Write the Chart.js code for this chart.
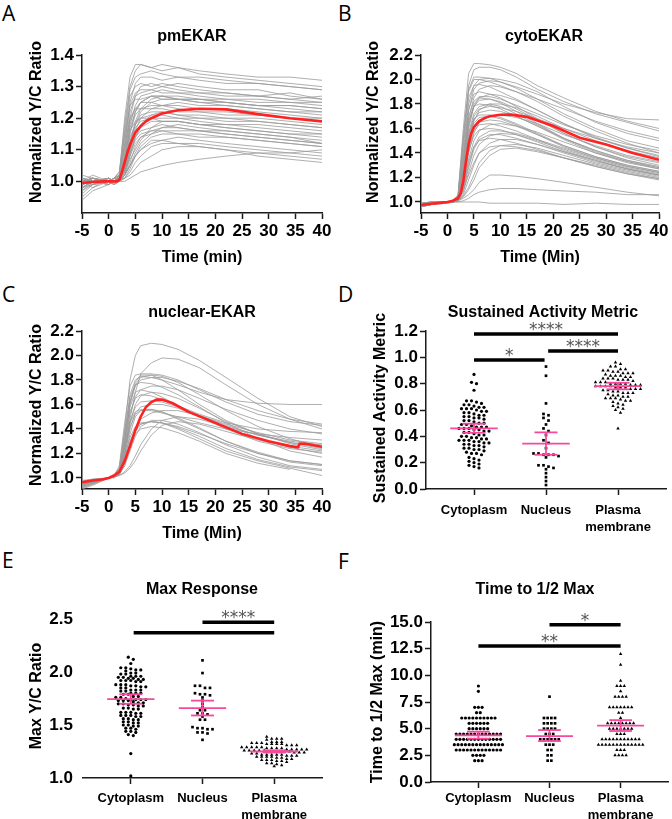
<!DOCTYPE html>
<html>
<head>
<meta charset="utf-8">
<script src="https://cdn.jsdelivr.net/npm/chart.js@4.4.0/dist/chart.umd.min.js"></script>
<style>
body { margin: 0; background: #fff; width: 672px; height: 819px; position: relative; overflow: hidden; }
canvas { position: absolute; }
.lt { position: absolute; font-family: 'Open Sans', sans-serif; font-size: 21px; color: #000; line-height: 1; }
</style>
</head>
<body>
<div class="lt" style="left:2px;top:3px">A</div>
<div class="lt" style="left:338px;top:3px">B</div>
<div class="lt" style="left:2px;top:284px">C</div>
<div class="lt" style="left:338px;top:284px">D</div>
<div class="lt" style="left:2px;top:550px">E</div>
<div class="lt" style="left:338px;top:551px">F</div>

<canvas id="cA" width="336" height="270" style="left:0;top:0"></canvas>
<canvas id="cB" width="336" height="270" style="left:336px;top:0"></canvas>
<canvas id="cC" width="336" height="290" style="left:0;top:270px"></canvas>
<canvas id="cD" width="336" height="290" style="left:336px;top:270px"></canvas>
<canvas id="cE" width="336" height="259" style="left:0;top:560px"></canvas>
<canvas id="cF" width="336" height="259" style="left:336px;top:560px"></canvas>

<script>
// ---- time course data ----
const timeGrid = [-5, -3, 0, 1, 2, 3, 4, 5, 6, 8, 10, 13, 17, 22, 28, 34, 40];
const timeTicks = [-5, 0, 5, 10, 15, 20, 25, 30, 35, 40];

const pmTraces = [
  [0.99,1.01,1.00,1.00,1.02,1.20,1.33,1.37,1.37,1.36,1.37,1.36,1.35,1.34,1.33,1.33,1.32],
  [1.01,1.00,0.99,1.01,1.03,1.18,1.30,1.35,1.37,1.36,1.35,1.36,1.34,1.33,1.32,1.31,1.30],
  [0.98,1.00,1.01,1.00,1.01,1.12,1.25,1.31,1.33,1.33,1.32,1.33,1.32,1.31,1.31,1.30,1.29],
  [1.00,1.02,1.00,0.99,1.02,1.15,1.27,1.30,1.31,1.30,1.31,1.30,1.29,1.28,1.27,1.28,1.26],
  [0.97,0.99,1.01,1.00,1.00,1.08,1.20,1.27,1.30,1.31,1.30,1.31,1.30,1.29,1.29,1.27,1.26],
  [1.01,1.00,1.00,1.01,1.02,1.10,1.22,1.27,1.28,1.29,1.28,1.28,1.27,1.26,1.26,1.25,1.25],
  [0.99,1.01,1.00,1.00,1.01,1.06,1.18,1.24,1.27,1.28,1.29,1.28,1.28,1.27,1.27,1.26,1.27],
  [1.00,0.98,1.01,1.00,1.01,1.05,1.15,1.22,1.25,1.27,1.27,1.27,1.26,1.26,1.25,1.25,1.24],
  [1.02,1.01,1.00,1.00,1.00,1.04,1.12,1.19,1.23,1.26,1.27,1.26,1.26,1.25,1.24,1.24,1.23],
  [0.98,1.00,1.00,1.01,1.01,1.09,1.19,1.23,1.25,1.25,1.24,1.25,1.24,1.24,1.23,1.22,1.22],
  [1.00,1.01,0.99,1.00,1.02,1.07,1.16,1.21,1.23,1.24,1.24,1.24,1.23,1.23,1.22,1.21,1.20],
  [0.96,0.99,1.00,1.00,1.00,1.03,1.10,1.16,1.20,1.23,1.24,1.23,1.22,1.22,1.21,1.20,1.19],
  [1.01,1.00,1.01,1.00,1.01,1.05,1.13,1.18,1.21,1.22,1.22,1.21,1.21,1.20,1.20,1.19,1.18],
  [0.99,1.00,1.00,1.01,1.00,1.02,1.08,1.14,1.18,1.21,1.22,1.21,1.20,1.20,1.19,1.18,1.17],
  [1.00,1.01,1.00,1.00,1.01,1.06,1.14,1.18,1.20,1.20,1.20,1.20,1.19,1.18,1.18,1.17,1.16],
  [1.00,0.99,1.01,1.00,1.00,1.03,1.09,1.14,1.17,1.19,1.19,1.19,1.18,1.17,1.16,1.15,1.15],
  [0.97,1.00,1.00,0.99,1.01,1.04,1.10,1.14,1.16,1.17,1.18,1.17,1.16,1.16,1.15,1.14,1.13],
  [1.01,1.00,0.99,1.00,1.00,1.02,1.06,1.11,1.14,1.16,1.17,1.17,1.16,1.15,1.14,1.13,1.12],
  [0.99,1.00,1.01,1.00,1.01,1.03,1.08,1.12,1.14,1.15,1.16,1.15,1.15,1.14,1.13,1.12,1.11],
  [1.00,1.01,1.00,1.01,1.00,1.01,1.04,1.08,1.11,1.14,1.15,1.15,1.14,1.14,1.13,1.12,1.11],
  [0.98,0.99,1.00,1.00,1.00,1.02,1.05,1.08,1.10,1.13,1.13,1.14,1.13,1.12,1.11,1.10,1.09],
  [1.00,1.00,1.01,1.00,1.01,1.01,1.03,1.06,1.08,1.11,1.12,1.12,1.12,1.11,1.10,1.09,1.08],
  [0.99,1.00,1.00,0.99,1.00,1.01,1.02,1.04,1.06,1.08,1.10,1.11,1.11,1.10,1.09,1.08,1.07],
  [1.00,1.00,0.99,1.00,1.00,1.00,1.01,1.02,1.03,1.04,1.05,1.06,1.07,1.08,1.09,1.09,1.10],
  [0.94,0.97,0.99,1.00,1.02,1.16,1.29,1.33,1.34,1.35,1.34,1.33,1.33,1.32,1.31,1.30,1.29],
  [1.00,1.01,1.00,1.01,1.03,1.14,1.24,1.26,1.26,1.27,1.26,1.26,1.25,1.25,1.24,1.24,1.23],
  [0.99,1.00,1.00,1.00,1.02,1.11,1.20,1.23,1.23,1.23,1.23,1.22,1.22,1.21,1.21,1.20,1.20],
  [1.01,1.00,1.00,1.00,1.01,1.08,1.16,1.19,1.20,1.21,1.21,1.20,1.20,1.19,1.19,1.18,1.17],
  [0.98,1.00,1.01,1.00,1.00,1.03,1.07,1.10,1.13,1.17,1.19,1.19,1.18,1.17,1.16,1.15,1.14],
  [1.00,1.00,1.00,1.01,1.01,1.05,1.12,1.17,1.19,1.20,1.19,1.19,1.18,1.18,1.17,1.16,1.15],
  [0.95,0.98,1.00,1.00,1.01,1.04,1.12,1.18,1.22,1.25,1.26,1.26,1.25,1.24,1.23,1.22,1.21],
  [1.01,1.00,1.00,1.00,1.01,1.07,1.17,1.22,1.25,1.27,1.27,1.26,1.26,1.25,1.24,1.23,1.22],
  [1.00,0.99,1.00,1.01,1.02,1.12,1.24,1.28,1.29,1.29,1.30,1.29,1.28,1.28,1.27,1.26,1.25],
  [0.99,1.01,1.00,1.00,1.00,1.02,1.05,1.09,1.12,1.15,1.17,1.18,1.17,1.16,1.15,1.14,1.12],
  [1.00,1.00,1.00,1.00,1.01,1.04,1.09,1.13,1.15,1.16,1.16,1.16,1.16,1.15,1.14,1.13,1.12],
  [1.00,1.01,1.00,0.99,1.00,1.02,1.05,1.08,1.10,1.12,1.13,1.12,1.11,1.10,1.08,1.07,1.06]
];
const pmMeanT = [-5, -3, -1, 0, 1, 1.5, 2, 2.5, 3, 3.5, 4, 5, 6, 7, 8, 10, 13, 17, 22, 28, 34, 40];
const pmMeanY = [0.995, 0.998, 1.0, 1.0, 1.0, 1.0, 1.005, 1.03, 1.06, 1.09, 1.115, 1.155, 1.175, 1.19, 1.20, 1.215, 1.225, 1.23, 1.228, 1.213, 1.20, 1.19];

const cytoTraces = [
  [0.98,0.99,1.00,1.00,1.05,1.60,2.05,2.13,2.13,2.12,2.10,2.05,1.95,1.85,1.74,1.66,1.60],
  [0.97,0.99,1.00,1.00,1.04,1.50,1.95,2.08,2.10,2.10,2.08,2.02,1.92,1.82,1.72,1.65,1.58],
  [0.99,1.00,1.00,1.01,1.06,1.55,1.92,2.02,2.02,2.01,1.98,1.94,1.88,1.80,1.73,1.68,1.67],
  [0.98,1.00,1.00,1.00,1.03,1.40,1.80,1.95,2.00,2.01,2.00,1.97,1.90,1.78,1.65,1.56,1.50],
  [0.96,0.98,1.00,1.00,1.03,1.35,1.75,1.92,1.97,1.99,1.98,1.93,1.84,1.72,1.60,1.50,1.44],
  [0.97,0.99,1.00,1.01,1.04,1.45,1.85,1.95,1.96,1.94,1.90,1.84,1.75,1.64,1.52,1.44,1.38],
  [0.98,0.99,1.00,1.00,1.02,1.30,1.68,1.85,1.92,1.95,1.94,1.90,1.82,1.70,1.58,1.48,1.40],
  [0.99,1.00,1.00,1.00,1.03,1.38,1.75,1.88,1.90,1.88,1.85,1.78,1.68,1.56,1.45,1.37,1.32],
  [0.97,0.98,0.99,1.00,1.02,1.25,1.60,1.78,1.85,1.88,1.87,1.83,1.75,1.64,1.53,1.44,1.37],
  [0.96,0.98,1.00,1.00,1.02,1.28,1.62,1.78,1.83,1.84,1.82,1.76,1.67,1.56,1.45,1.36,1.30],
  [0.98,0.99,1.00,1.00,1.03,1.32,1.66,1.78,1.80,1.79,1.76,1.70,1.62,1.51,1.40,1.32,1.27],
  [0.97,0.99,1.00,1.00,1.01,1.18,1.48,1.66,1.75,1.80,1.80,1.77,1.70,1.60,1.50,1.42,1.36],
  [0.99,1.00,1.00,1.00,1.02,1.22,1.52,1.67,1.73,1.75,1.74,1.70,1.62,1.52,1.42,1.34,1.29],
  [0.98,0.99,1.00,1.00,1.02,1.26,1.55,1.68,1.71,1.71,1.69,1.64,1.56,1.46,1.37,1.30,1.25],
  [0.97,0.98,1.00,1.00,1.01,1.15,1.40,1.56,1.65,1.70,1.71,1.69,1.64,1.55,1.46,1.38,1.33],
  [0.98,0.99,1.00,1.00,1.02,1.20,1.47,1.60,1.65,1.67,1.66,1.62,1.55,1.46,1.37,1.30,1.25],
  [0.96,0.98,0.99,1.00,1.01,1.12,1.35,1.50,1.58,1.63,1.64,1.62,1.57,1.49,1.40,1.33,1.28],
  [0.98,0.99,1.00,1.00,1.02,1.18,1.42,1.54,1.59,1.60,1.59,1.55,1.49,1.41,1.33,1.27,1.22],
  [0.97,0.99,1.00,1.00,1.01,1.10,1.30,1.45,1.53,1.58,1.58,1.56,1.51,1.44,1.36,1.29,1.24],
  [0.98,0.99,1.00,1.00,1.01,1.08,1.24,1.38,1.47,1.54,1.56,1.55,1.50,1.43,1.35,1.28,1.23],
  [0.97,0.98,1.00,1.00,1.01,1.14,1.33,1.45,1.50,1.52,1.51,1.48,1.43,1.36,1.29,1.23,1.19],
  [0.98,0.99,1.00,1.00,1.01,1.06,1.18,1.30,1.40,1.48,1.51,1.51,1.47,1.41,1.34,1.27,1.22],
  [0.97,0.99,1.00,1.00,1.01,1.05,1.12,1.22,1.32,1.42,1.46,1.47,1.44,1.38,1.31,1.25,1.20],
  [0.98,0.99,1.00,1.00,1.01,1.04,1.10,1.18,1.28,1.38,1.43,1.44,1.41,1.36,1.29,1.23,1.18],
  [0.99,1.00,1.00,1.00,1.01,1.03,1.06,1.10,1.16,1.22,1.22,1.21,1.19,1.16,1.12,1.08,1.05],
  [0.98,0.99,1.00,1.00,1.00,1.01,1.03,1.06,1.08,1.10,1.11,1.11,1.10,1.09,1.08,1.06,1.06],
  [0.99,1.00,1.00,1.00,1.00,1.00,1.00,1.00,1.00,0.99,0.99,0.99,0.99,0.98,0.99,0.98,0.98],
  [0.97,0.99,1.00,1.01,1.05,1.50,1.90,2.00,2.00,1.98,1.95,1.90,1.84,1.76,1.66,1.58,1.52],
  [0.96,0.98,1.00,1.00,1.03,1.33,1.70,1.82,1.86,1.86,1.84,1.79,1.72,1.63,1.54,1.47,1.42],
  [0.98,0.99,1.00,1.00,1.02,1.24,1.57,1.72,1.78,1.80,1.78,1.72,1.63,1.52,1.42,1.34,1.28],
  [0.97,0.99,1.00,1.00,1.02,1.20,1.50,1.64,1.69,1.70,1.68,1.63,1.55,1.45,1.36,1.29,1.24],
  [0.98,0.99,1.00,1.00,1.01,1.16,1.43,1.58,1.63,1.64,1.62,1.58,1.51,1.42,1.34,1.27,1.22],
  [0.97,0.98,1.00,1.00,1.01,1.10,1.28,1.43,1.51,1.55,1.55,1.52,1.47,1.40,1.32,1.26,1.21],
  [0.98,0.99,1.00,1.00,1.02,1.22,1.54,1.70,1.76,1.78,1.77,1.74,1.68,1.60,1.52,1.45,1.40],
  [0.97,0.99,1.00,1.00,1.02,1.28,1.64,1.80,1.85,1.84,1.81,1.74,1.64,1.52,1.41,1.33,1.27],
  [0.98,0.99,1.00,1.00,1.01,1.10,1.22,1.32,1.40,1.45,1.46,1.45,1.42,1.36,1.30,1.24,1.19]
];
const cytoMeanT = [-5, -3, -1, 0, 1, 1.5, 2, 2.5, 3, 3.5, 4, 4.5, 5, 6, 7, 8, 10, 12, 15, 20, 25, 30, 35, 40];
const cytoMeanY = [0.975, 0.985, 0.995, 1.0, 1.01, 1.02, 1.03, 1.07, 1.17, 1.33, 1.47, 1.56, 1.61, 1.66, 1.685, 1.70, 1.712, 1.713, 1.695, 1.62, 1.525, 1.47, 1.40, 1.345];

const nucTraces = [
  [0.95,0.97,1.00,1.02,1.08,1.40,1.80,2.00,2.08,2.10,2.09,2.05,1.96,1.82,1.65,1.50,1.42],
  [0.97,0.98,1.00,1.02,1.10,1.45,1.75,1.84,1.85,1.85,1.84,1.80,1.72,1.62,1.52,1.46,1.43],
  [0.93,0.96,1.00,1.01,1.04,1.20,1.48,1.70,1.85,1.94,1.98,1.97,1.90,1.76,1.60,1.48,1.40],
  [0.96,0.98,1.00,1.02,1.07,1.35,1.68,1.80,1.83,1.82,1.80,1.76,1.70,1.64,1.61,1.60,1.60],
  [0.92,0.95,1.00,1.01,1.05,1.28,1.60,1.76,1.82,1.84,1.83,1.78,1.68,1.55,1.42,1.32,1.25],
  [0.97,0.99,1.00,1.02,1.08,1.38,1.66,1.76,1.78,1.77,1.74,1.68,1.58,1.45,1.32,1.22,1.17],
  [0.94,0.97,1.00,1.01,1.05,1.25,1.52,1.66,1.72,1.75,1.75,1.72,1.65,1.56,1.47,1.40,1.36],
  [0.96,0.98,1.00,1.02,1.06,1.30,1.58,1.70,1.72,1.70,1.66,1.59,1.50,1.40,1.30,1.24,1.21],
  [0.91,0.94,1.00,1.01,1.04,1.20,1.45,1.60,1.67,1.70,1.69,1.65,1.57,1.46,1.36,1.28,1.23],
  [0.97,0.98,1.00,1.01,1.05,1.22,1.46,1.58,1.62,1.63,1.62,1.58,1.51,1.43,1.35,1.29,1.25],
  [0.95,0.97,1.00,1.01,1.04,1.18,1.40,1.53,1.58,1.60,1.60,1.57,1.50,1.41,1.32,1.25,1.20],
  [0.93,0.96,1.00,1.01,1.05,1.24,1.45,1.54,1.56,1.56,1.54,1.49,1.41,1.30,1.20,1.13,1.10],
  [0.96,0.98,1.00,1.01,1.03,1.12,1.28,1.40,1.48,1.53,1.55,1.55,1.51,1.44,1.37,1.31,1.28],
  [0.94,0.97,1.00,1.01,1.04,1.16,1.33,1.42,1.45,1.46,1.45,1.41,1.34,1.24,1.15,1.09,1.06],
  [0.97,0.98,1.00,1.01,1.04,1.14,1.30,1.40,1.44,1.46,1.45,1.42,1.36,1.28,1.20,1.14,1.11],
  [0.92,0.95,1.00,1.01,1.03,1.10,1.22,1.34,1.42,1.47,1.47,1.44,1.37,1.27,1.17,1.10,1.07],
  [0.96,0.98,1.00,1.01,1.02,1.05,1.10,1.18,1.27,1.40,1.47,1.50,1.48,1.42,1.35,1.30,1.27],
  [0.95,0.97,1.00,1.01,1.02,1.04,1.08,1.14,1.22,1.35,1.43,1.46,1.44,1.38,1.31,1.26,1.22],
  [0.93,0.96,1.00,1.00,1.03,1.12,1.26,1.36,1.40,1.42,1.41,1.37,1.30,1.20,1.12,1.07,null],
  [0.97,0.98,1.00,1.02,1.06,1.30,1.62,1.78,1.84,1.84,1.80,1.72,1.60,1.47,1.36,1.29,1.24],
  [0.95,0.97,1.00,1.01,1.05,1.26,1.54,1.65,1.68,1.67,1.64,1.59,1.52,1.45,1.40,1.38,1.37],
  [0.94,0.96,1.00,1.01,1.03,1.15,1.36,1.50,1.55,1.56,1.54,1.48,1.40,1.30,1.21,1.14,1.11],
  [0.96,0.98,1.00,1.01,1.04,1.20,1.42,1.52,1.55,1.55,1.53,1.50,1.45,1.40,1.36,1.33,1.31],
  [0.98,0.99,1.00,1.02,1.07,1.32,1.62,1.75,1.80,1.82,1.82,1.79,1.73,1.64,1.55,1.48,1.44],
  [0.95,0.97,1.00,1.01,1.03,1.10,1.25,1.38,1.44,1.46,1.45,1.40,1.32,1.22,1.14,1.08,1.02]
];
const nucMeanT = [-5, -3, -1, 0, 1, 2, 3, 4, 5, 6, 7, 8, 9, 10, 12, 15, 20, 25, 30, 34, 35.5, 35.8, 37, 40];
const nucMeanY = [0.965, 0.98, 0.99, 1.0, 1.02, 1.05, 1.14, 1.26, 1.39, 1.50, 1.58, 1.62, 1.64, 1.64, 1.61, 1.54, 1.45, 1.36, 1.30, 1.26, 1.25, 1.28, 1.28, 1.255];

// ---- dot plot data ----
const groups = ["Cytoplasm", "Nucleus", ["Plasma", "membrane"]];

const sustCyto = [0.87,0.81,0.80,0.75,0.67,0.67,0.66,0.65,0.64,0.64,0.63,0.62,0.62,0.61,0.61,0.61,0.60,
  0.59,0.59,0.58,0.58,0.57,0.56,0.56,0.55,0.55,0.54,0.54,0.53,0.52,0.52,0.51,0.50,0.50,0.49,0.49,0.48,
  0.47,0.47,0.47,0.46,0.46,0.46,0.45,0.45,0.44,0.44,0.43,0.43,0.42,0.41,0.41,0.40,0.40,0.39,0.39,
  0.38,0.38,0.37,0.37,0.37,0.36,0.36,0.35,0.35,0.34,0.34,0.33,0.33,0.32,0.31,0.31,0.30,0.30,0.29,
  0.28,0.27,0.27,0.26,0.24,0.23,0.22,0.21,0.20,0.19,0.18,0.17,0.16];
const sustNuc = [0.93,0.86,0.65,0.57,0.56,0.54,0.52,0.49,0.46,0.44,0.41,0.37,0.35,0.31,0.27,0.27,0.26,0.26,0.26,
  0.25,0.24,0.18,0.18,0.17,0.16,0.15,0.12,0.09,0.06,0.03];
const sustPm = [0.96,0.95,0.93,0.93,0.91,0.91,0.90,0.90,0.89,0.89,0.88,0.88,0.88,0.87,0.86,0.86,0.86,0.85,0.85,
  0.84,0.84,0.84,0.83,0.83,0.83,0.82,0.81,0.81,0.81,0.80,0.80,0.80,0.80,0.79,0.79,0.79,0.78,0.78,0.78,0.78,0.77,
  0.77,0.77,0.76,0.76,0.76,0.75,0.75,0.74,0.74,0.73,0.73,0.73,0.72,0.71,0.71,0.70,0.70,0.69,0.69,0.69,
  0.68,0.67,0.67,0.66,0.65,0.64,0.63,0.62,0.61,0.60,0.58,0.46];
const sustMean = [0.46, 0.345, 0.782];
const sustLo = [0.427, 0.26, 0.757];
const sustHi = [0.496, 0.43, 0.807];

const maxCyto = [2.14,2.12,2.08,2.04,2.04,2.03,2.02,2.02,2.01,1.99,1.99,1.98,1.98,1.96,1.96,1.96,1.95,1.95,
  1.94,1.94,1.93,1.93,1.92,1.92,1.92,1.91,1.91,1.88,1.88,1.88,1.87,1.87,1.86,1.86,1.85,1.85,1.83,1.83,1.83,
  1.82,1.82,1.80,1.80,1.80,1.79,1.79,1.77,1.77,1.76,1.76,1.75,1.74,1.74,1.74,1.74,1.73,1.73,1.73,1.72,
  1.71,1.71,1.70,1.70,1.69,1.69,1.68,1.68,1.66,1.66,1.65,1.65,1.62,1.62,1.62,1.61,1.61,1.59,1.59,1.59,1.58,
  1.58,1.56,1.56,1.55,1.55,1.53,1.53,1.52,1.52,1.50,1.50,1.49,1.49,1.47,1.47,1.46,1.44,1.44,1.43,1.41,1.40,
  1.23,1.02];
const maxNuc = [2.11,1.99,1.87,1.87,1.85,1.85,1.80,1.79,1.79,1.78,1.76,1.73,1.70,1.67,1.64,1.64,1.61,1.61,1.60,
  1.58,1.55,1.55,1.48,1.47,1.47,1.46,1.46,1.43,1.43,1.42,1.36];
const maxPm = [1.39,1.37,1.37,1.37,1.36,1.34,1.34,1.34,1.33,1.33,1.33,1.32,1.32,1.32,1.32,1.31,1.31,1.31,
  1.29,1.29,1.29,1.29,1.29,1.28,1.28,1.28,1.28,1.27,1.27,1.27,1.27,1.27,1.26,1.26,1.26,1.26,1.26,1.25,1.25,1.25,
  1.25,1.25,1.24,1.24,1.24,1.23,1.23,1.22,1.22,1.22,1.22,1.22,1.21,1.21,1.21,1.20,1.20,1.20,1.20,1.19,1.19,
  1.18,1.18,1.17,1.17,1.17,1.16,1.16,1.15,1.14,1.14,1.13,1.12,1.11];
const maxMean = [1.745, 1.66, 1.25];
const maxLo = [1.70, 1.59, 1.24];
const maxHi = [1.79, 1.73, 1.26];

const halfCyto = [9.0,8.5,7.0,7.0,7.0,6.5,6.5,6,6,6,6,6,6,6,6,6,6,5.5,5.5,5.5,5.5,5.5,5.5,5,5,5,5,5,5,
  4.5,4.5,4.5,4.5,4.5,4.5,4.5,4.5,4.5,4.5,4.5,4.5,4.5,4,4,4,4,4,4,4,4,4,4,4,4,4,
  3.5,3.5,3.5,3.5,3.5,3.5,3.5,3.5,3.5,3.5,3.5,3.5,3.5,3.5,3,3,3,3,3,3,3,3,3,3,3,3,3,
  2.5,2.5,2.5,2.5,2,2,2];
const halfNuc = [8,6,6,6,6,5.5,5.5,5.5,5.5,5,5,5,5,4.5,4.5,4.5,4,4,4,4,4,4,3.5,3.5,3.5,3,3,2.5,2.5,2,2];
const halfPm = [12,11,9.5,9,9,9,8.5,8,8,8,8,7,7,7,7,7,7,7,6.5,6.5,6,5.5,5.5,5.5,5.5,5.5,5.5,5.5,5.5,
  5,5,5,5,5,5,5,4.5,4.5,4.5,4,4,4,4,4,4,4,4,4,4,4,3.5,3.5,3.5,3.5,3.5,3.5,3.5,3.5,3.5,3.5,3.5,3.5,3.5,
  3,3,3,2.5,2.5,2.5,2.5];
const halfMean = [4.37, 4.3, 5.28];
const halfLo = [4.06, 3.84, 4.78];
const halfHi = [4.72, 4.87, 5.8];

// significance bars: [from group, to group, y value, label]
const sigD = [[0, 2, 1.177, "****"], [1.03, 2, 1.048, "****"], [0, 0.98, 0.98, "*"]];
const sigE = [[1, 2, 2.47, "****"], [0.04, 2, 2.37, ""]];
const sigF = [[1, 2, 14.75, "*"], [0, 2, 12.76, "**"]];

// ---- shared style ----
Chart.defaults.font.family = "'Liberation Sans', Arial, sans-serif";
Chart.defaults.font.weight = "bold";
Chart.defaults.font.size = 16;
Chart.defaults.color = "#000";

const AXIS = "#1a1a1a";
const PINK = "#f7489d";

// panel title and rotated y-axis title, placed like the Prism layout
const panelText = {
  id: "panelText",
  afterDraw(chart, args, o) {
    const c = chart.ctx;
    c.save();
    c.font = "bold 16px 'Liberation Sans', Arial, sans-serif";
    c.fillStyle = "#000";
    c.textAlign = "center";
    c.textBaseline = "middle";
    c.fillText(o.text, o.x, o.y);
    c.translate(o.yx, o.yy);
    c.rotate(-Math.PI / 2);
    c.fillText(o.ytext, 0, 0);
    c.restore();
  }
};

const errBars = {
  id: "errBars",
  afterDatasetsDraw(chart, args, o) {
    if (!o.mean) return;
    const c = chart.ctx, xs = chart.scales.x, ys = chart.scales.y;
    c.save();
    c.strokeStyle = PINK;
    c.lineWidth = 1.8;
    o.mean.forEach((m, i) => {
      const hl = (a, v) => {
        c.beginPath();
        c.moveTo(xs.getPixelForValue(i - a), ys.getPixelForValue(v));
        c.lineTo(xs.getPixelForValue(i + a), ys.getPixelForValue(v));
        c.stroke();
      };
      hl(0.33, m);
      hl(0.16, o.lo[i]);
      hl(0.16, o.hi[i]);
      c.beginPath();
      c.moveTo(xs.getPixelForValue(i), ys.getPixelForValue(o.lo[i]));
      c.lineTo(xs.getPixelForValue(i), ys.getPixelForValue(o.hi[i]));
      c.stroke();
    });
    c.restore();
  }
};

const sigBars = {
  id: "sigBars",
  afterDraw(chart, args, o) {
    if (!o.bars) return;
    const c = chart.ctx, xs = chart.scales.x, ys = chart.scales.y;
    c.save();
    o.bars.forEach(([a, b, v, lab]) => {
      const x1 = xs.getPixelForValue(a), x2 = xs.getPixelForValue(b), y = ys.getPixelForValue(v);
      c.strokeStyle = "#000";
      c.lineWidth = 3.5;
      c.beginPath(); c.moveTo(x1, y); c.lineTo(x2, y); c.stroke();
      if (lab) {
        c.font = "17px 'DejaVu Sans', sans-serif";
        c.fillStyle = "#555";
        c.textAlign = "center";
        c.textBaseline = "alphabetic";
        c.fillText(lab, (x1 + x2) / 2, y + 1);
      }
    });
    c.restore();
  }
};

function axisStyle(extra) {
  return Object.assign({
    grid: { drawOnChartArea: false, drawTicks: true, tickLength: 6, tickColor: AXIS, tickWidth: 1.5 },
    border: { color: AXIS, width: 1.5 },
    ticks: { color: "#000", padding: 2, autoSkip: false, maxRotation: 0, font: { size: 17, weight: "bold" } }
  }, extra);
}

function traceChart(id, traces, meanT, meanY, o) {
  const ds = [{
    data: meanT.map((t, i) => ({ x: t, y: meanY[i] })),
    borderColor: "#ff2222", borderWidth: 2.6, pointRadius: 0, order: 0
  }];
  traces.forEach(tr => {
    ds.push({
      data: tr.map((y, i) => ({ x: timeGrid[i], y })).filter(p => p.y !== null),
      borderColor: "#9b9b9b", borderWidth: 0.8, pointRadius: 0, order: 1
    });
  });
  return new Chart(document.getElementById(id), {
    type: "line",
    data: { datasets: ds },
    options: {
      responsive: false, animation: false,
      layout: { padding: { left: 0, top: o.top, right: o.right, bottom: 0 } },
      plugins: { legend: { display: false }, tooltip: { enabled: false }, panelText: o.text },
      scales: {
        x: axisStyle({
          type: "linear", min: -5, max: 40,
          afterBuildTicks: s => { s.ticks = timeTicks.map(v => ({ value: v })); },
          afterFit: s => { s.height = o.xh; },
          title: { display: true, text: o.xtitle, font: { size: 16, weight: "bold" }, padding: { top: 0, bottom: o.xtpad } }
        }),
        y: axisStyle({
          type: "linear", min: o.ymin, max: o.ymax,
          afterBuildTicks: s => { s.ticks = o.yticks.map(v => ({ value: v })); },
          afterFit: s => { s.width = o.yw; },
          ticks: { color: "#000", padding: 2, autoSkip: false, font: { size: 17, weight: "bold" },
            callback: v => v.toFixed(1) }
        })
      }
    },
    plugins: [panelText]
  });
}

traceChart("cA", pmTraces, pmMeanT, pmMeanY, {
  top: 55, right: 14, xh: 57, yw: 82, xtpad: 3,
  ymin: 0.9, ymax: 1.4, yticks: [1.0, 1.1, 1.2, 1.3, 1.4], xtitle: "Time (min)",
  text: { text: "pmEKAR", x: 192, y: 37, ytext: "Normalized Y/C Ratio", yx: 37, yy: 122 }
});
traceChart("cB", cytoTraces, cytoMeanT, cytoMeanY, {
  top: 55, right: 13, xh: 57, yw: 85, xtpad: 3,
  ymin: 0.91, ymax: 2.2, yticks: [1.0, 1.2, 1.4, 1.6, 1.8, 2.0, 2.2], xtitle: "Time (Min)",
  text: { text: "cytoEKAR", x: 208, y: 37, ytext: "Normalized Y/C Ratio", yx: 38, yy: 122 }
});
traceChart("cC", nucTraces, nucMeanT, nucMeanY, {
  top: 61, right: 14, xh: 71, yw: 82, xtpad: 17,
  ymin: 0.91, ymax: 2.2, yticks: [1.0, 1.2, 1.4, 1.6, 1.8, 2.0, 2.2], xtitle: "Time (Min)",
  text: { text: "nuclear-EKAR", x: 202, y: 43, ytext: "Normalized Y/C Ratio", yx: 37, yy: 135 }
});

// Prism-style dot layout: points that fall in the same pixel row are set side by side
function swarm(chart, sets, rowH, gap) {
  const xs = chart.scales.x, ys = chart.scales.y;
  const ppu = xs.getPixelForValue(1) - xs.getPixelForValue(0);
  sets.forEach((vals, g) => {
    const order = vals.map((v, i) => i).sort((a, b) => vals[b] - vals[a]);
    const rows = [];
    order.forEach(i => {
      const py = ys.getPixelForValue(vals[i]);
      const last = rows[rows.length - 1];
      if (last && py - last.y0 < rowH) last.idx.push(i);
      else rows.push({ y0: py, idx: [i] });
    });
    const pts = new Array(vals.length);
    rows.forEach(r => {
      const n = r.idx.length;
      r.idx.forEach((i, k) => {
        const off = (k - (n - 1) / 2) * gap;
        pts[i] = { x: g + off / ppu, y: vals[i] };
      });
    });
    chart.data.datasets[g].data = pts;
  });
  chart.update("none");
}

function dotChart(id, sets, o) {
  const styles = ["circle", "rect", "triangle"];
  const radii = [1.6, 1.9, 2.0];
  const chart = new Chart(document.getElementById(id), {
    type: "scatter",
    data: {
      datasets: sets.map((vals, g) => ({
        data: vals.map(v => ({ x: g, y: v })),
        pointStyle: styles[g], pointRadius: radii[g], pointBorderWidth: 0,
        backgroundColor: "#000", borderColor: "#000"
      }))
    },
    options: {
      responsive: false, animation: false,
      layout: { padding: { left: 0, top: o.top, right: o.right, bottom: 0 } },
      plugins: {
        legend: { display: false }, tooltip: { enabled: false },
        panelText: o.text,
        errBars: { mean: o.mean, lo: o.lo, hi: o.hi },
        sigBars: { bars: o.sig }
      },
      scales: {
        x: axisStyle({
          type: "linear", min: -2 / 3, max: 8 / 3,
          afterBuildTicks: s => { s.ticks = [0, 1, 2].map(v => ({ value: v })); },
          afterFit: s => { s.height = o.xh; },
          ticks: { color: "#000", padding: o.xpad, autoSkip: false, maxRotation: 0,
            font: { size: 13, weight: "bold", lineHeight: 1.3 }, callback: v => groups[v] }
        }),
        y: axisStyle({
          type: "linear", min: o.ymin, max: o.ymax,
          afterBuildTicks: s => { s.ticks = o.yticks.map(v => ({ value: v })); },
          afterFit: s => { s.width = o.yw; },
          grid: { drawOnChartArea: false, drawTicks: o.yLine, tickLength: 6, tickColor: AXIS, tickWidth: 1.5 },
          border: { display: o.yLine, color: AXIS, width: 1.5 },
          ticks: { color: "#000", padding: o.yLine ? 2 : 10, autoSkip: false, font: { size: 17, weight: "bold" },
            callback: v => v.toFixed(1) }
        })
      }
    },
    plugins: [panelText, errBars, sigBars]
  });
  swarm(chart, sets, o.rowH, o.gap);
  return chart;
}

dotChart("cD", [sustCyto, sustNuc, sustPm], {
  top: 61, right: 6, xh: 71, yw: 90, xpad: 7, rowH: 3.4, gap: 5, yLine: true,
  ymin: 0, ymax: 1.2, yticks: [0, 0.2, 0.4, 0.6, 0.8, 1.0, 1.2],
  text: { text: "Sustained Activity Metric", x: 207, y: 43, ytext: "Sustained Activity Metric", yx: 45, yy: 138 },
  mean: sustMean, lo: sustLo, hi: sustHi, sig: sigD
});
dotChart("cE", [maxCyto, maxNuc, maxPm], {
  top: 59, right: 14, xh: 41, yw: 83, xpad: 6, rowH: 3.0, gap: 5, yLine: false,
  ymin: 1.0, ymax: 2.5, yticks: [1.0, 1.5, 2.0, 2.5],
  text: { text: "Max Response", x: 202, y: 30, ytext: "Max Y/C Ratio", yx: 37, yy: 136 },
  mean: maxMean, lo: maxLo, hi: maxHi, sig: sigE
});
dotChart("cF", [halfCyto, halfNuc, halfPm], {
  top: 62, right: 1, xh: 37, yw: 95, xpad: 2, rowH: 2, gap: 3.7, yLine: true,
  ymin: 0, ymax: 15, yticks: [0, 2.5, 5, 7.5, 10, 12.5, 15],
  text: { text: "Time to 1/2 Max", x: 199, y: 30, ytext: "Time to 1/2 Max (min)", yx: 42, yy: 142 },
  mean: halfMean, lo: halfLo, hi: halfHi, sig: sigF
});
</script>
</body>
</html>
